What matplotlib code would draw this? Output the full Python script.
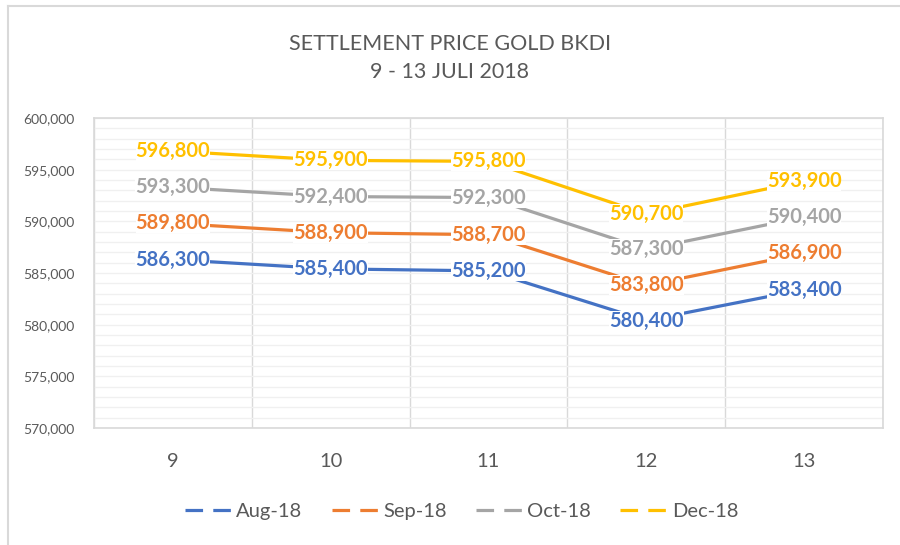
import matplotlib.pyplot as plt
from matplotlib.lines import Line2D
from matplotlib.ticker import FuncFormatter, MultipleLocator
import numpy as np

plt.rcParams['font.family'] = ['Lato', 'DejaVu Sans']

days = ['9', '10', '11', '12', '13']
series_names = ['Aug-18', 'Sep-18', 'Oct-18', 'Dec-18']
aug = [586300, 585400, 585200, 580400, 583400]
sep = [589800, 588900, 588700, 583800, 586900]
octo = [593300, 592400, 592300, 587300, 590400]
dec = [596800, 595900, 595800, 590700, 593900]
colors = ['#4472C4', '#ED7D31', '#A5A5A5', '#FFC000']

fig = plt.figure(figsize=(9, 5.45), dpi=100)
ax = fig.add_axes([0.1044, 0.2147, 0.8767, 0.5688])

x = np.arange(len(days))
for vals, c in zip([aug, sep, octo, dec], colors):
    ax.plot(x, vals, color=c, lw=2.3, zorder=3, solid_capstyle='butt')
    for xi, v in zip(x, vals):
        ax.text(xi, v, f'{v:,}', color=c, fontsize=14.5, fontweight='bold',
                ha='center', va='center', zorder=4,
                bbox=dict(boxstyle='square,pad=0.0', fc='white', ec='none'))

ax.set_xlim(-0.5, 4.5)
ax.set_ylim(570000, 600000)
ax.yaxis.set_major_locator(MultipleLocator(5000))
ax.yaxis.set_minor_locator(MultipleLocator(1000))
ax.yaxis.set_major_formatter(FuncFormatter(lambda v, p: f'{int(v):,}'))
ax.set_xticks(x)
ax.set_xticklabels(days)
ax.set_xticks(np.arange(-0.5, 5, 1), minor=True)
ax.grid(True, which='minor', axis='x', color='#d9d9d9', lw=1)
ax.grid(True, which='both', axis='y', color='#f0f0f0', lw=1)
ax.set_axisbelow(True)
ax.tick_params(axis='both', which='both', length=0)
ax.tick_params(axis='y', labelsize=10, labelcolor='#595959', pad=14)
ax.tick_params(axis='x', labelsize=14.5, labelcolor='#595959', pad=18)
for s in ax.spines.values():
    s.set_color('#d9d9d9')
    s.set_linewidth(1.2)

fig.text(0.5, 0.92, 'SETTLEMENT PRICE GOLD BKDI', ha='center', va='center',
         fontsize=15.5, color='#595959')
fig.text(0.5, 0.867, '9 - 13 JULI 2018', ha='center', va='center',
         fontsize=15.5, color='#595959')

handles = [Line2D([0], [0], color=c, lw=2.3, dashes=(5.5, 3.2)) for c in colors]
fig.legend(handles, series_names, loc='center', bbox_to_anchor=(0.513, 0.062),
           ncol=4, frameon=False, fontsize=14.5, labelcolor='#595959',
           handlelength=2.35, handletextpad=0.2, columnspacing=1.45)

# chart border
fig.add_artist(Line2D([8 / 900, 8 / 900], [0, 1 - 6 / 545], color='#d9d9d9', lw=1.5,
                      transform=fig.transFigure))
fig.add_artist(Line2D([8 / 900, 1], [1 - 6 / 545, 1 - 6 / 545], color='#d9d9d9', lw=1.5,
                      transform=fig.transFigure))

fig.savefig('out.png', dpi=100, facecolor='white')
